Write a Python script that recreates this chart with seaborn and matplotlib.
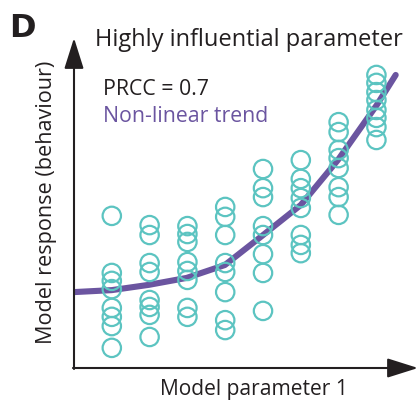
import numpy as np
import pandas as pd
import matplotlib
matplotlib.use("Agg")
import matplotlib.pyplot as plt
import seaborn as sns

# parameter bins (x) and model responses (y)
param_bins = [1, 2, 3, 4, 5, 6, 7, 8]
responses = [
    [4.61, 2.88, 2.64, 2.39, 1.82, 1.55, 1.27, 0.61],
    [4.33, 4.03, 3.18, 2.91, 2.06, 1.85, 1.61, 0.94],
    [4.30, 4.06, 3.82, 3.21, 2.94, 2.67, 1.82, 1.55],
    [4.88, 4.58, 4.03, 3.18, 2.91, 2.30, 1.45, 1.15],
    [6.03, 5.45, 5.18, 4.30, 4.03, 3.45, 2.88, 1.73],
    [6.30, 5.73, 5.45, 5.15, 4.85, 4.03, 3.73, 3.48],
    [7.45, 7.15, 6.61, 6.36, 6.06, 5.48, 5.18, 4.64],
    [8.88, 8.64, 8.36, 8.12, 7.82, 7.58, 7.30, 6.91],
]

# non-linear trend line
trend_x = [0.0, 1.0, 1.98, 2.98, 3.99, 4.97, 6.0, 6.98, 8.01, 8.51]
trend_y = [2.30, 2.36, 2.52, 2.73, 3.12, 4.0, 4.94, 6.30, 7.97, 8.88]

title = "Highly influential parameter"
prcc_text = "PRCC = 0.7"
trend_label = "Non-linear trend"
xlabel = "Model parameter 1"
ylabel = "Model response (behaviour)"

teal = "#5cc4c1"
purple = "#6b55a0"
dark = "#231f20"

df = pd.DataFrame({
    "param": np.repeat(param_bins, [len(r) for r in responses]),
    "response": np.concatenate(responses),
})
trend = pd.DataFrame({"x": trend_x, "y": trend_y})

sns.set_style("white")
plt.rcParams["font.family"] = ["Open Sans", "DejaVu Sans"]

fig = plt.figure(figsize=(4.2, 4.01), dpi=100)
ax = fig.add_axes([74 / 420, 1 - 368 / 401, 344 / 420, 330 / 401])

sns.lineplot(data=trend, x="x", y="y", ax=ax, color=purple, lw=4.4,
             solid_capstyle="round", zorder=2)
sns.scatterplot(data=df, x="param", y="response", ax=ax, marker="o",
                s=175, facecolor="none", edgecolor=teal, linewidth=1.6,
                zorder=3)

ax.set_xlim(0, 9.1)
ax.set_ylim(0, 10)
ax.set_xticks([])
ax.set_yticks([])
ax.set_xlabel("")
ax.set_ylabel("")
for sp in ax.spines.values():
    sp.set_visible(False)

arrow_kw = dict(arrowstyle="-|>,head_length=0.95,head_width=0.3",
                lw=1.5, color=dark, mutation_scale=20, shrinkA=0, shrinkB=0)
ax.annotate("", xy=(0, 1), xytext=(0, -0.003), xycoords="axes fraction",
            arrowprops=arrow_kw, annotation_clip=False)
ax.annotate("", xy=(1, 0), xytext=(-0.003, 0), xycoords="axes fraction",
            arrowprops=arrow_kw, annotation_clip=False)

fig.text(9 / 420, 1 - 37 / 401, "D", fontsize=23, fontweight="bold",
         color=dark, va="baseline", family=["DejaVu Sans"])
fig.text(95 / 420, 1 - 46 / 401, title, fontsize=17, color=dark,
         va="baseline")
fig.text(103 / 420, 1 - 95 / 401, prcc_text, fontsize=15.3, color=dark,
         va="baseline")
fig.text(103 / 420, 1 - 122 / 401, trend_label, fontsize=15.3, color=purple,
         va="baseline")
fig.text(254 / 420, 1 - 395 / 401, xlabel, fontsize=15.1, color=dark,
         ha="center", va="baseline")
fig.text(47 / 420, 1 - 202 / 401, ylabel, fontsize=15.6, color=dark,
         rotation=90, ha="center", va="center")

fig.savefig("out.png", dpi=100)
